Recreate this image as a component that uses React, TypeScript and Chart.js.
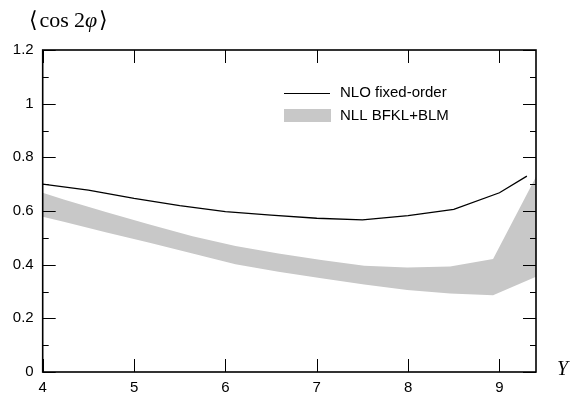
import React, { useEffect, useRef } from "react";
import { Chart, registerables } from "chart.js";

Chart.register(...registerables);

// NLO fixed-order curve
const nloX = [4, 4.5, 5, 5.5, 6, 6.5, 7, 7.5, 8, 8.5, 9, 9.3];
const nloY = [0.7, 0.678, 0.647, 0.62, 0.598, 0.585, 0.573, 0.567, 0.583, 0.606, 0.668, 0.73];

// NLL BFKL+BLM band
const bandX = [4.0, 4.23, 4.7, 5.17, 5.64, 6.11, 6.58, 7.05, 7.52, 7.99, 8.46, 8.93, 9.4];
const bandUpper = [0.668, 0.643, 0.595, 0.55, 0.506, 0.47, 0.442, 0.417, 0.396, 0.389, 0.393, 0.421, 0.728];
const bandLower = [0.579, 0.56, 0.52, 0.482, 0.442, 0.402, 0.374, 0.349, 0.326, 0.306, 0.293, 0.286, 0.355];

const xTicks = [4, 5, 6, 7, 8, 9];
const yTicks = [0, 0.2, 0.4, 0.6, 0.8, 1, 1.2];
const yMinorTicks = [0.1, 0.3, 0.5, 0.7, 0.9, 1.1];

const legendLabels = ["NLO fixed-order", "NLL BFKL+BLM"];
const yTitleParts = ["\u27E8", "cos", "2", "\u03C6", "\u27E9"];
const xTitle = "Y";

const BAND = "#c8c8c8";
const SANS = "'Liberation Sans', Arial, sans-serif";
const SERIF = "'Liberation Serif', 'DejaVu Serif', serif";

const framePlugin = {
  id: "frame",
  afterDraw(chart: any) {
    const ctx = chart.ctx as CanvasRenderingContext2D;
    const { left, right, top, bottom } = chart.chartArea;
    const xs = chart.scales.x;
    const ys = chart.scales.y;
    ctx.save();
    ctx.strokeStyle = "#000";
    ctx.lineWidth = 1;
    const major = 13;
    const minor = 6;
    ctx.beginPath();
    for (const v of xTicks) {
      const px = Math.round(xs.getPixelForValue(v)) + 0.5;
      ctx.moveTo(px, bottom);
      ctx.lineTo(px, bottom - major);
      ctx.moveTo(px, top);
      ctx.lineTo(px, top + major);
    }
    for (const v of yTicks) {
      const py = Math.round(ys.getPixelForValue(v)) + 0.5;
      ctx.moveTo(left, py);
      ctx.lineTo(left + major, py);
      ctx.moveTo(right, py);
      ctx.lineTo(right - major, py);
    }
    for (const v of yMinorTicks) {
      const py = Math.round(ys.getPixelForValue(v)) + 0.5;
      ctx.moveTo(left, py);
      ctx.lineTo(left + minor, py);
      ctx.moveTo(right, py);
      ctx.lineTo(right - minor, py);
    }
    ctx.stroke();
    ctx.lineWidth = 1.6;
    ctx.strokeRect(left, top, right - left, bottom - top);

    // legend
    ctx.lineWidth = 1.2;
    ctx.beginPath();
    ctx.moveTo(284, 93.5);
    ctx.lineTo(330, 93.5);
    ctx.stroke();
    ctx.fillStyle = BAND;
    ctx.fillRect(284, 109, 47, 13);
    ctx.fillStyle = "#000";
    ctx.font = `15px ${SANS}`;
    ctx.textBaseline = "middle";
    ctx.textAlign = "left";
    ctx.fillText(legendLabels[0], 340, 93);
    ctx.fillText(legendLabels[1], 340, 115.5);

    // y title: <cos 2phi>
    ctx.textBaseline = "alphabetic";
    const fs = 22;
    const base = 27;
    let x = 29;
    const gaps = [2, 5, 0, 2, 0];
    yTitleParts.forEach((p, i) => {
      ctx.font = (i === 3 ? "italic " : "") + `${fs}px ${SERIF}`;
      ctx.fillText(p, x, base);
      x += ctx.measureText(p).width + gaps[i];
    });

    ctx.font = `italic 20px ${SERIF}`;
    ctx.fillText(xTitle, 557, 375);
    ctx.restore();
  },
};

export default function App() {
  const ref = useRef<HTMLCanvasElement | null>(null);
  useEffect(() => {
    if (!ref.current) return;
    const chart = new Chart(ref.current, {
      type: "line",
      data: {
        datasets: [
          {
            label: legendLabels[0],
            data: nloX.map((x, i) => ({ x, y: nloY[i] })),
            borderColor: "#000",
            borderWidth: 1.3,
            pointRadius: 0,
            fill: false,
            tension: 0,
            order: 0,
          },
          {
            label: legendLabels[1],
            data: bandX.map((x, i) => ({ x, y: bandUpper[i] })),
            borderWidth: 0,
            borderColor: BAND,
            backgroundColor: BAND,
            pointRadius: 0,
            fill: "+1",
            tension: 0,
            order: 1,
          },
          {
            label: "lower",
            data: bandX.map((x, i) => ({ x, y: bandLower[i] })),
            borderWidth: 0,
            borderColor: BAND,
            backgroundColor: BAND,
            pointRadius: 0,
            fill: false,
            tension: 0,
            order: 2,
          },
        ],
      },
      options: {
        animation: false,
        responsive: true,
        maintainAspectRatio: false,
        layout: { padding: { top: 50, right: 38, left: 0, bottom: 0 } },
        plugins: { legend: { display: false }, tooltip: { enabled: false } },
        scales: {
          x: {
            type: "linear",
            min: 4,
            max: 9.4,
            afterBuildTicks: (s: any) => {
              s.ticks = xTicks.map((v) => ({ value: v }));
            },
            afterFit: (s: any) => {
              s.height = 24;
            },
            grid: { display: false, drawTicks: false },
            border: { display: false },
            ticks: {
              color: "#000",
              padding: 7,
              maxRotation: 0,
              font: { family: SANS, size: 15 },
            },
          },
          y: {
            type: "linear",
            min: 0,
            max: 1.2,
            afterBuildTicks: (s: any) => {
              s.ticks = yTicks.map((v) => ({ value: v }));
            },
            afterFit: (s: any) => {
              s.width = 42.7;
            },
            grid: { display: false, drawTicks: false },
            border: { display: false },
            ticks: {
              color: "#000",
              padding: 9,
              font: { family: SANS, size: 15 },
              callback: (v: any) => String(Math.round(Number(v) * 10) / 10),
            },
          },
        },
      },
      plugins: [framePlugin],
    });
    return () => chart.destroy();
  }, []);
  return (
    <div style={{ position: "absolute", left: 0, top: 0, width: 574, height: 396, background: "#fff" }}>
      <canvas ref={ref} />
    </div>
  );
}
